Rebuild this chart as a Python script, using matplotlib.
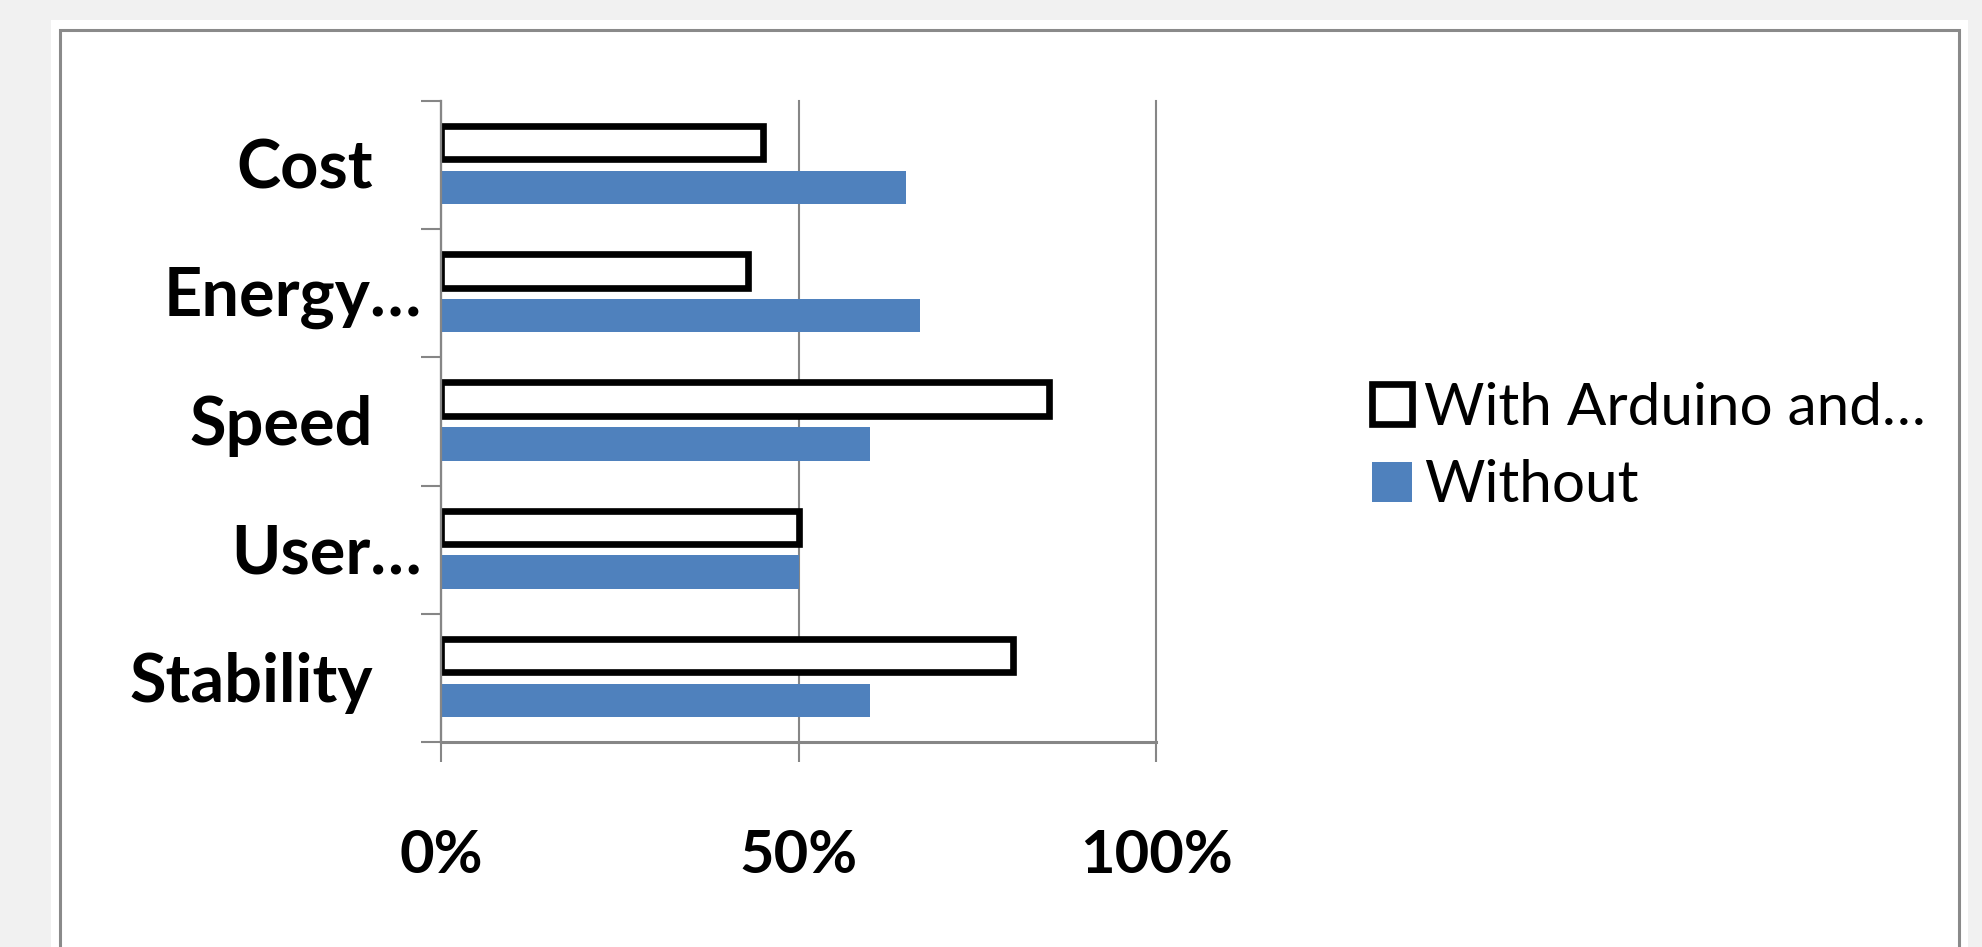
import numpy as np
import matplotlib
matplotlib.use("Agg")
import matplotlib.pyplot as plt
from matplotlib.patches import Rectangle
from matplotlib.transforms import offset_copy

# ---- data ----
categories = ["Cost", "Energy…", "Speed", "User…", "Stability"]
with_arduino = [45, 43, 85, 50, 80]
without = [65, 67, 60, 50, 60]
series_names = ["With Arduino and…", "Without"]
x_ticks = [0, 50, 100]
x_tick_labels = ["0%", "50%", "100%"]

FONT = ["Lato", "DejaVu Sans"]
plt.rcParams["font.family"] = FONT

W, H = 1983, 947
fig = plt.figure(figsize=(W / 100, H / 100), dpi=100)
fig.patch.set_facecolor("#f1f1f1")

# white chart area with grey frame
fig.patches.append(Rectangle((51 / W, -0.05), (1968 - 51) / W, 1.05 - 20 / H,
                             transform=fig.transFigure, facecolor="white",
                             edgecolor="none", zorder=-3))
fig.patches.append(Rectangle((60 / W, -0.05), (1959 - 60) / W, 1.05 - 30 / H,
                             transform=fig.transFigure, facecolor="none",
                             edgecolor="#8a8a8a", linewidth=2.2, zorder=-2))

ax = fig.add_axes([441 / W, 1 - 742 / H, (1156 - 441) / W, (742 - 101) / H])
ax.set_facecolor("none")
ax.set_zorder(2)

n = len(categories)
y = np.arange(n)
bh = 0.26
off = 0.175
grey = "#868686"

ax.barh(y - off, with_arduino, height=bh, facecolor="white", edgecolor="black",
        linewidth=4.8, label=series_names[0], zorder=3)
ax.barh(y + off, without, height=bh, color="#4F81BD", label=series_names[1], zorder=3)

ax.set_xlim(0, 100)
ax.set_ylim(n - 0.5, -0.5)

for s in ["top", "right"]:
    ax.spines[s].set_visible(False)
for s in ["left", "bottom"]:
    ax.spines[s].set_color(grey)
    ax.spines[s].set_linewidth(1.6)
    ax.spines[s].set_zorder(4)
ax.spines["bottom"].set_linewidth(2.2)

ax.set_xticks(x_ticks)
ax.set_xticklabels(x_tick_labels, fontsize=43, fontweight="bold")
ax.tick_params(axis="x", direction="out", length=14.4, width=1.5, color=grey, pad=48)
ax.grid(axis="x", color=grey, linewidth=1.5, zorder=1)
for gl in ax.get_xgridlines():
    gl.set_clip_on(False)

ax.set_yticks(y)
ax.set_yticklabels([])
ax.tick_params(axis="y", which="major", length=0)
ax.set_yticks(np.arange(n + 1) - 0.5, minor=True)
ax.tick_params(axis="y", which="minor", direction="out", length=14.4, width=1.5, color=grey)

for yi, lab in zip(y, categories):
    pad = 14 if lab.endswith("…") else 49
    tr = offset_copy(ax.get_yaxis_transform(), fig=fig, x=-pad, y=-3.5, units="points")
    ax.text(0, yi, lab, transform=tr, ha="right", va="center",
            fontsize=48, fontweight="bold", color="black")

fig.legend(loc="center left", bbox_to_anchor=(1372 / W, 1 - 447 / H),
           frameon=False, fontsize=42, handlelength=0.68, handleheight=0.68,
           handletextpad=0.22, labelspacing=0.42, borderpad=0, borderaxespad=0)

fig.savefig("out.png", dpi=100, facecolor=fig.get_facecolor())
